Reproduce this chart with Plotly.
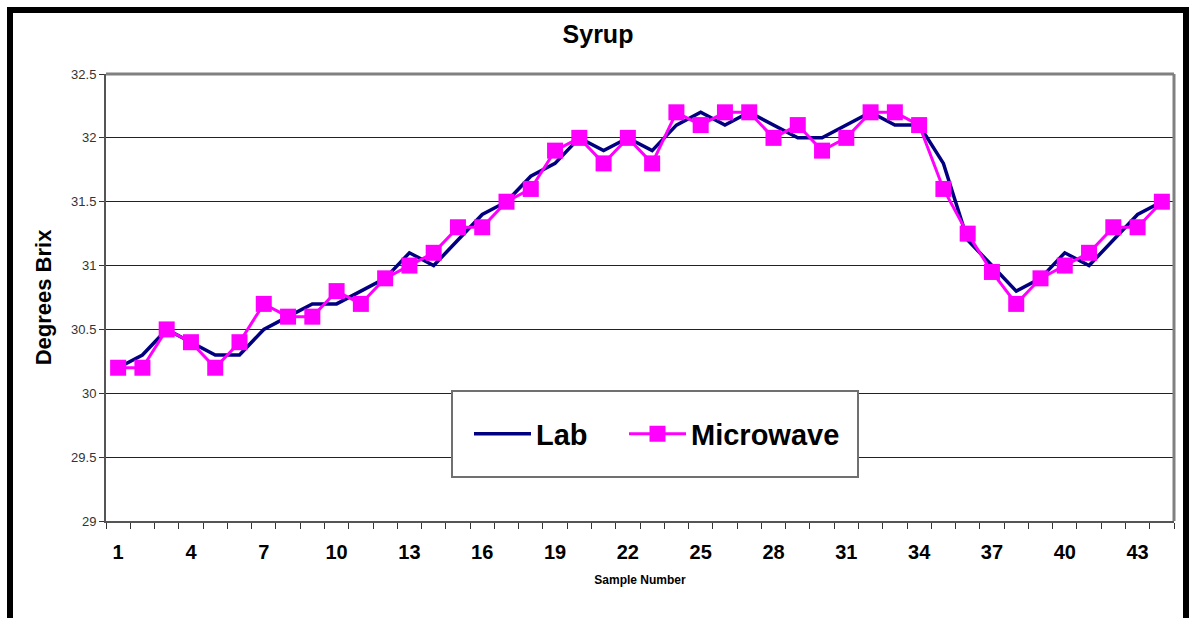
import plotly.graph_objects as go

samples = list(range(1, 45))
lab = [30.2, 30.3, 30.5, 30.4, 30.3, 30.3, 30.5, 30.6, 30.7, 30.7,
       30.8, 30.9, 31.1, 31.0, 31.2, 31.4, 31.5, 31.7, 31.8, 32.0,
       31.9, 32.0, 31.9, 32.1, 32.2, 32.1, 32.2, 32.1, 32.0, 32.0,
       32.1, 32.2, 32.1, 32.1, 31.8, 31.2, 31.0, 30.8, 30.9, 31.1,
       31.0, 31.2, 31.4, 31.5]
microwave = [30.2, 30.2, 30.5, 30.4, 30.2, 30.4, 30.7, 30.6, 30.6, 30.8,
             30.7, 30.9, 31.0, 31.1, 31.3, 31.3, 31.5, 31.6, 31.9, 32.0,
             31.8, 32.0, 31.8, 32.2, 32.1, 32.2, 32.2, 32.0, 32.1, 31.9,
             32.0, 32.2, 32.2, 32.1, 31.6, 31.25, 30.95, 30.7, 30.9, 31.0,
             31.1, 31.3, 31.3, 31.5]
x_tick_vals = list(range(1, 45, 3))
y_tick_vals = [29, 29.5, 30, 30.5, 31, 31.5, 32, 32.5]
y_tick_text = ["29", "29.5", "30", "30.5", "31", "31.5", "32", "32.5"]

FONT = "Arial, Liberation Sans, sans-serif"

fig = go.Figure()
fig.add_trace(go.Scatter(x=samples, y=lab, name="<b>Lab</b>", mode="lines",
                         line=dict(color="#000080", width=3.5), legend="legend"))
fig.add_trace(go.Scatter(x=samples, y=microwave, name="<b>Microwave</b>", mode="lines+markers",
                         line=dict(color="#FF00FF", width=3),
                         marker=dict(symbol="square", size=16, color="#FF00FF"),
                         legend="legend2"))

# pixel -> paper helpers (plot area: x 106..1174, y 74..521)
L, R, T, B = 106, 1174, 74, 521
def px(x):
    return (x - L) / (R - L)
def py(y):
    return (B - y) / (B - T)

legend_common = dict(orientation="h", y=py(434), xanchor="left", yanchor="middle",
                     bgcolor="rgba(0,0,0,0)", borderwidth=0,
                     font=dict(size=29, family=FONT), itemwidth=57)

fig.update_layout(
    width=1189, height=618,
    margin=dict(l=L, r=1189 - R, t=T, b=618 - B),
    paper_bgcolor="white", plot_bgcolor="white",
    font=dict(family=FONT, color="black"),
    title=dict(text="<b>Syrup</b>", x=px(598), xref="paper", xanchor="center",
               y=1 - 34 / 618, yanchor="middle", font=dict(size=25)),
    showlegend=True,
    legend=dict(x=px(469), **legend_common),
    legend2=dict(x=px(624), **legend_common),
    xaxis=dict(range=[0.5, 44.5], tickmode="array", tickvals=x_tick_vals,
               ticktext=[f"<b>{v}</b>" for v in x_tick_vals],
               tickfont=dict(size=20), ticks="", ticklabelstandoff=12,
               showgrid=False, zeroline=False,
               showline=True, linecolor="#555555", linewidth=2,
               minor=dict(ticks="outside", tick0=0.5, dtick=1, ticklen=6,
                          tickcolor="#333333", tickwidth=1, showgrid=False),
               title=dict(text="<b>Sample Number</b>", font=dict(size=12), standoff=14)),
    yaxis=dict(range=[29, 32.5], tickmode="array", tickvals=y_tick_vals, ticktext=y_tick_text,
               tickfont=dict(size=13, color="#333333"), ticks="outside", ticklen=5,
               tickcolor="#333333", showgrid=True, gridcolor="#222222", gridwidth=1,
               zeroline=False, showline=True, linecolor="#555555", linewidth=2,
               title=dict(text="<b>Degrees Brix</b>", font=dict(size=22), standoff=13)),
)

# plot area top/right gray border
fig.add_shape(type="line", xref="paper", yref="paper", x0=0, x1=1, y0=1, y1=1,
              line=dict(color="#808080", width=3))
fig.add_shape(type="line", xref="paper", yref="paper", x0=1, x1=1, y0=0, y1=1,
              line=dict(color="#808080", width=3))
# legend box
fig.add_shape(type="rect", xref="paper", yref="paper", layer="above",
              x0=px(452), x1=px(858), y0=py(477), y1=py(391),
              line=dict(color="#707070", width=2), fillcolor="white")
# outer black frame
fig.add_shape(type="rect", xref="paper", yref="paper",
              x0=px(10), x1=px(1186), y0=py(640), y1=py(10),
              line=dict(color="black", width=6), fillcolor="rgba(0,0,0,0)")

fig.write_html("out.html", config={"displayModeBar": False},
               post_script="document.body.style.margin='0';document.body.style.overflow='hidden';")
